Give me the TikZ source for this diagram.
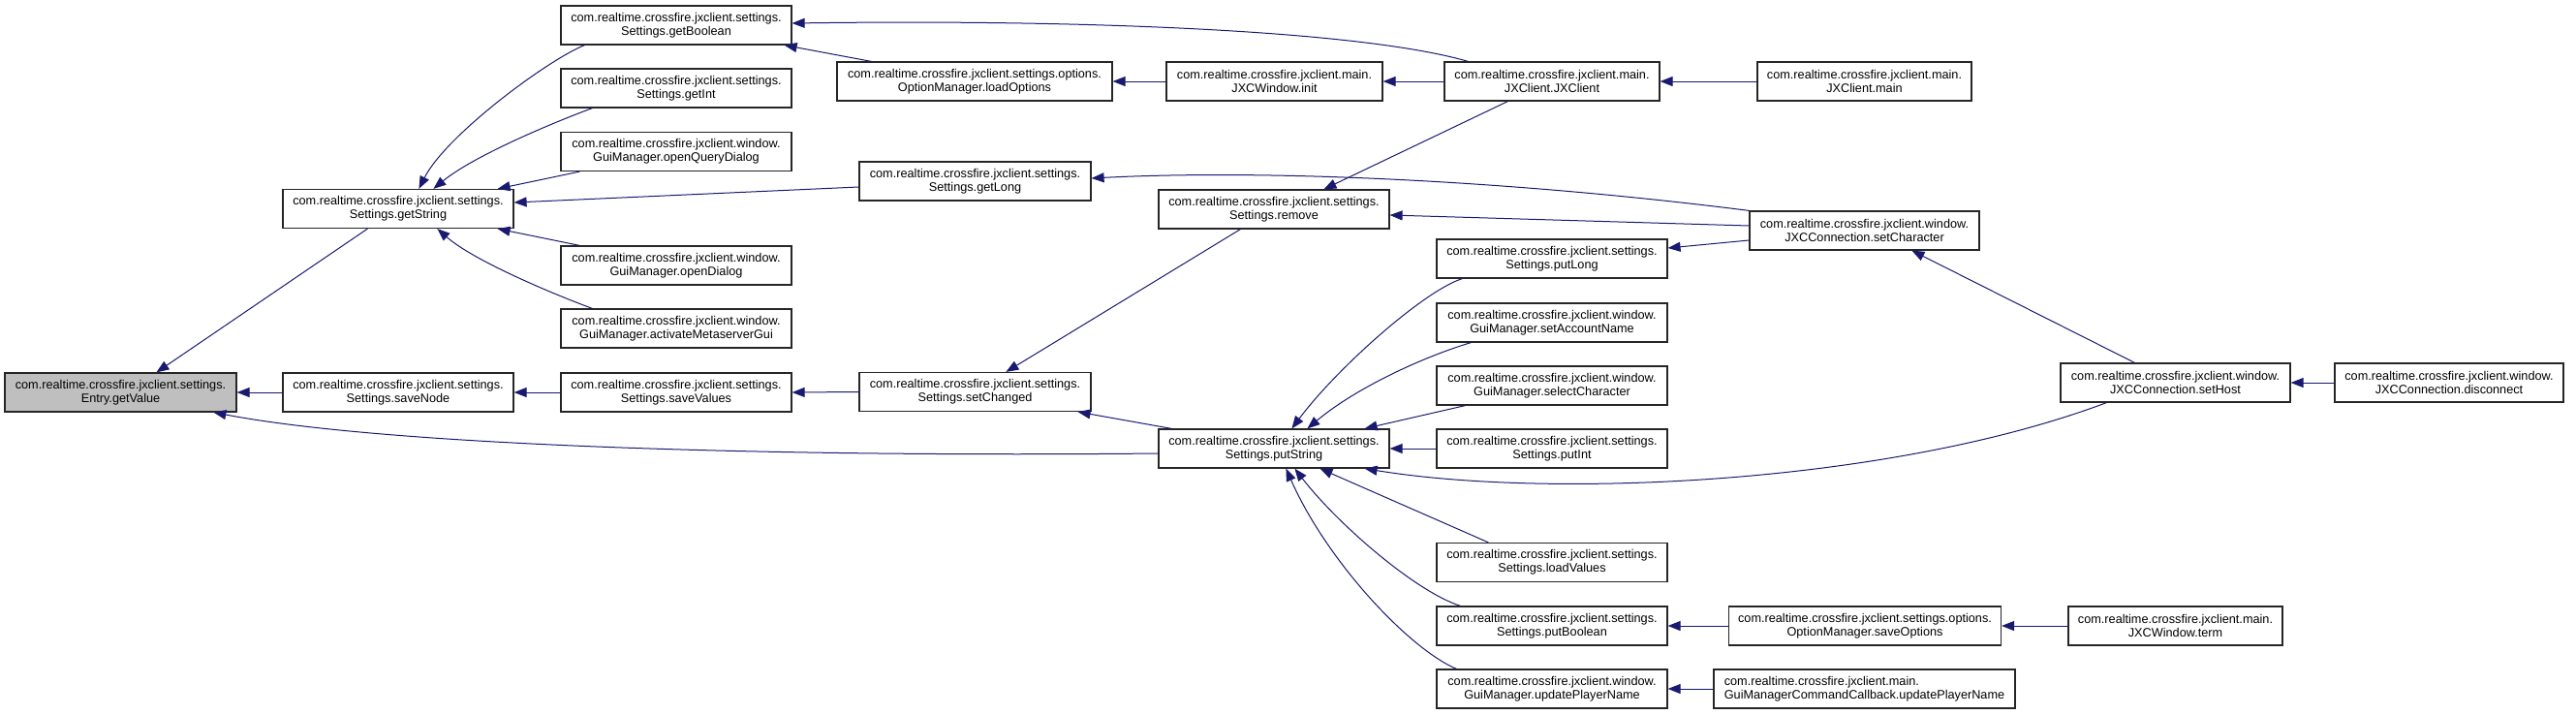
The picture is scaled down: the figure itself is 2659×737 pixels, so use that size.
\documentclass[tikz,border=0pt]{standalone}
\usepackage{fontspec}
\setmainfont{Liberation Sans}
\usetikzlibrary{arrows.meta,calc}
\definecolor{edgeblue}{HTML}{191970}
\definecolor{hilite}{HTML}{BFBFBF}
\tikzset{
  fn/.style={draw=black!85, line width=1.2pt, rectangle, inner sep=0pt, minimum height=40pt, minimum width=238pt,
    align=center, font=\fontsize{12.7}{13.6}\selectfont, fill=white},
  call/.style={draw=edgeblue, line width=1pt, -{Triangle[length=13pt,width=10pt]}, fill=none},
}
\begin{document}
\begin{tikzpicture}[x=1pt,y=-1pt]
\useasboundingbox (0,0) rectangle (2659,737);
% column 0
\node[fn, fill=hilite, minimum width=239pt] (getValue) at (124.5,405) {com.realtime.crossfire.jxclient.settings.\\Entry.getValue};
% column 1
\node[fn] (getString) at (411,215.5) {com.realtime.crossfire.jxclient.settings.\\Settings.getString};
\node[fn] (saveNode) at (411,405) {com.realtime.crossfire.jxclient.settings.\\Settings.saveNode};
% column 2
\node[fn] (getBoolean) at (698,26) {com.realtime.crossfire.jxclient.settings.\\Settings.getBoolean};
\node[fn] (getInt) at (698,91) {com.realtime.crossfire.jxclient.settings.\\Settings.getInt};
\node[fn] (openQuery) at (698,156.5) {com.realtime.crossfire.jxclient.window.\\GuiManager.openQueryDialog};
\node[fn] (openDialog) at (698,274) {com.realtime.crossfire.jxclient.window.\\GuiManager.openDialog};
\node[fn] (activateMeta) at (698,339) {com.realtime.crossfire.jxclient.window.\\GuiManager.activateMetaserverGui};
\node[fn] (saveValues) at (698,405) {com.realtime.crossfire.jxclient.settings.\\Settings.saveValues};
% column 3
\node[fn, minimum width=284pt] (loadOptions) at (1006,84) {com.realtime.crossfire.jxclient.settings.options.\\OptionManager.loadOptions};
\node[fn, minimum width=239pt] (getLong) at (1006.5,187) {com.realtime.crossfire.jxclient.settings.\\Settings.getLong};
\node[fn, minimum width=239pt] (setChanged) at (1006.5,404.5) {com.realtime.crossfire.jxclient.settings.\\Settings.setChanged};
% column 4
\node[fn, minimum width=223pt] (winInit) at (1315.5,84) {com.realtime.crossfire.jxclient.main.\\JXCWindow.init};
\node[fn] (remove) at (1315,216) {com.realtime.crossfire.jxclient.settings.\\Settings.remove};
\node[fn] (putString) at (1315,463) {com.realtime.crossfire.jxclient.settings.\\Settings.putString};
% column 5
\node[fn, minimum width=222pt] (jxclient) at (1602,84) {com.realtime.crossfire.jxclient.main.\\JXClient.JXClient};
\node[fn] (putLong) at (1602,267) {com.realtime.crossfire.jxclient.settings.\\Settings.putLong};
\node[fn] (setAccount) at (1602,333) {com.realtime.crossfire.jxclient.window.\\GuiManager.setAccountName};
\node[fn] (selectChar) at (1602,398) {com.realtime.crossfire.jxclient.window.\\GuiManager.selectCharacter};
\node[fn] (putInt) at (1602,463) {com.realtime.crossfire.jxclient.settings.\\Settings.putInt};
\node[fn] (loadValues) at (1602,580.5) {com.realtime.crossfire.jxclient.settings.\\Settings.loadValues};
\node[fn] (putBoolean) at (1602,646) {com.realtime.crossfire.jxclient.settings.\\Settings.putBoolean};
\node[fn] (updPlayer) at (1602,711) {com.realtime.crossfire.jxclient.window.\\GuiManager.updatePlayerName};
% column 6
\node[fn, minimum width=221pt] (jxmain) at (1924.5,84) {com.realtime.crossfire.jxclient.main.\\JXClient.main};
\node[fn, minimum width=237pt] (setCharacter) at (1924.5,238) {com.realtime.crossfire.jxclient.window.\\JXCConnection.setCharacter};
\node[fn, minimum width=281pt] (saveOptions) at (1925,646) {com.realtime.crossfire.jxclient.settings.options.\\OptionManager.saveOptions};
\node[fn, minimum width=311pt, align=left] (gmcc) at (1924.5,711) {com.realtime.crossfire.jxclient.main.\\GuiManagerCommandCallback.updatePlayerName};
% column 7
\node[fn, minimum width=237pt] (setHost) at (2245.5,395) {com.realtime.crossfire.jxclient.window.\\JXCConnection.setHost};
\node[fn, minimum width=221pt] (term) at (2245.5,646) {com.realtime.crossfire.jxclient.main.\\JXCWindow.term};
% column 8
\node[fn, minimum width=236pt] (disconnect) at (2528,395) {com.realtime.crossfire.jxclient.window.\\JXCConnection.disconnect};

% edges (caller -> callee)
\draw[call] ($(getString.south west)+(88,0)$) -- ($(getValue.north west)+(157,0)$);
\draw[call] (saveNode.west) -- (getValue.east);
\draw[call] ($(putString.west)+(0,5)$) .. controls (800,472) and (400,460) .. ($(getValue.south west)+(216,0)$);

\draw[call] ($(getBoolean.south west)+(25,0)$) .. controls (565,62) and (460,140) .. ($(getString.north west)+(141,0)$);
\draw[call] ($(getInt.south west)+(33,0)$) .. controls (575,125) and (490,160) .. ($(getString.north west)+(156,0)$);
\draw[call] ($(openQuery.south west)+(20,0)$) -- ($(getString.north east)+(-17,0)$);
\draw[call] ($(getLong.west)+(0,6)$) -- ($(getString.east)+(0,-6.5)$);
\draw[call] ($(openDialog.north west)+(20,0)$) -- ($(getString.south east)+(-17,0)$);
\draw[call] ($(activateMeta.north west)+(33,0)$) .. controls (575,305) and (490,270) .. ($(getString.south west)+(160,0)$);

\draw[call] ($(loadOptions.north west)+(36,0)$) -- ($(getBoolean.south east)+(-8,0)$);
\draw[call] ($(jxclient.north west)+(25,0)$) .. controls (1400,30) and (1100,20) .. ($(getBoolean.east)+(0,-2)$);
\draw[call] (winInit.west) -- (loadOptions.east);
\draw[call] (jxclient.west) -- (winInit.east);
\draw[call] (jxmain.west) -- (jxclient.east);
\draw[call] ($(jxclient.south west)+(66,0)$) -- ($(remove.north west)+(171,0)$);

\draw[call] (setCharacter.north west) .. controls (1550,185) and (1300,175) .. ($(getLong.east)+(0,-3)$);
\draw[call] ($(setCharacter.west)+(0,-5)$) -- ($(remove.east)+(0,6)$);
\draw[call] ($(setCharacter.west)+(0,10)$) -- ($(putLong.east)+(0,-11)$);
\draw[call] ($(setHost.north west)+(77,0)$) -- ($(setCharacter.south west)+(168,0)$);
\draw[call] (disconnect.west) -- (setHost.east);
\draw[call] ($(setHost.south west)+(48,0)$) .. controls (1950,500) and (1600,515) .. ($(putString.south east)+(-26,0)$);

\draw[call] (setChanged.west) -- (saveValues.east);
\draw[call] (saveValues.west) -- (saveNode.east);
\draw[call] ($(remove.south west)+(85,0)$) -- ($(setChanged.north west)+(152,0)$);
\draw[call] ($(putString.north west)+(14,0)$) -- ($(setChanged.south east)+(-14,0)$);

\draw[call] ($(putLong.south west)+(27,0)$) .. controls (1470,300) and (1380,380) .. ($(putString.north west)+(138,0)$);
\draw[call] ($(setAccount.south west)+(36,0)$) .. controls (1470,368) and (1400,400) .. ($(putString.north west)+(154,0)$);
\draw[call] ($(selectChar.south west)+(30,0)$) -- ($(putString.north east)+(-26,0)$);
\draw[call] (putInt.west) -- (putString.east);
\draw[call] ($(loadValues.north west)+(54,0)$) -- ($(putString.south west)+(167,0)$);
\draw[call] ($(putBoolean.north west)+(25,0)$) .. controls (1460,610) and (1380,540) .. ($(putString.south west)+(141,0)$);
\draw[call] ($(updPlayer.north west)+(21,0)$) .. controls (1455,670) and (1370,580) .. ($(putString.south west)+(132,0)$);

\draw[call] (saveOptions.west) -- (putBoolean.east);
\draw[call] (term.west) -- (saveOptions.east);
\draw[call] (gmcc.west) -- (updPlayer.east);
\end{tikzpicture}
\end{document}
